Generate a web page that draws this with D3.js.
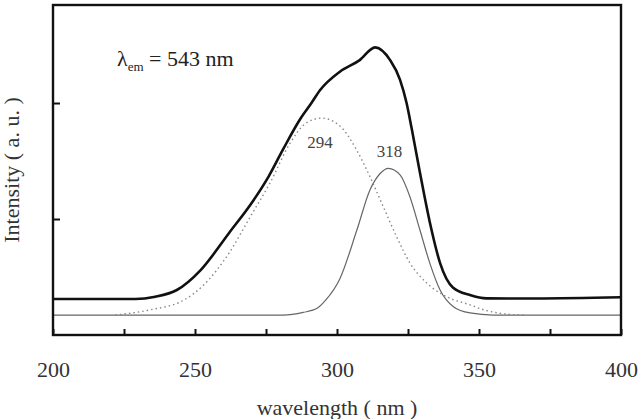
<!DOCTYPE html>
<html>
<head>
<meta charset="utf-8">
<script src="https://cdn.jsdelivr.net/npm/d3@7"></script>
<style>
  body { margin: 0; background: #fff; }
</style>
</head>
<body>
<div id="chart"></div>
<script>
// --- data ---
const xTicks = [200, 225, 250, 275, 300, 325, 350, 375, 400];
const yTicks = [1, 2];

// total excitation spectrum (thick line)
const totalWave = [200, 229, 236, 243.6, 252, 262, 270, 276, 281, 287, 291, 294, 301, 308, 313.4, 318.7, 322.2, 324.5, 326.3, 329.2, 332.7, 336.3, 340.8, 346.8, 352.7, 370, 400];
const totalInt  = [0.31, 0.31, 0.33, 0.388, 0.56, 0.88, 1.14, 1.37, 1.6, 1.86, 2.0, 2.11, 2.27, 2.37, 2.48, 2.37, 2.2, 2.0, 1.78, 1.40, 0.97, 0.62, 0.41, 0.345, 0.316, 0.315, 0.325];

// fitted band at 294 nm (dotted)
const band294Wave = [222, 234, 246, 253, 262, 269.4, 276.4, 283.5, 289.3, 294.6, 301.1, 306.9, 311.6, 316.3, 321, 325.7, 331.6, 338.6, 346.8, 352, 358, 366];
const band294Int  = [0.172, 0.216, 0.30, 0.43, 0.707, 1.017, 1.31, 1.655, 1.83, 1.87, 1.80, 1.595, 1.365, 1.106, 0.847, 0.62, 0.448, 0.33, 0.26, 0.215, 0.185, 0.172];

// fitted band at 318 nm (thin)
const band318Wave = [200, 281, 288.1, 293, 296, 301.1, 307, 311.6, 315.1, 318.1, 322.2, 325.7, 329.2, 332.7, 336.3, 341, 346.8, 355, 400];
const band318Int  = [0.172, 0.172, 0.195, 0.23, 0.30, 0.49, 0.905, 1.25, 1.39, 1.437, 1.38, 1.19, 0.905, 0.618, 0.388, 0.244, 0.19, 0.172, 0.172];

const W = 642, H = 419;
const plot = { left: 53, right: 621, top: 5, bottom: 335 };
const SERIF = "'Liberation Serif', 'Times New Roman', Times, 'DejaVu Serif', serif";

const svg = d3.select("#chart").append("svg")
    .attr("width", W)
    .attr("height", H);

const x = d3.scaleLinear().domain([200, 400]).range([plot.left, plot.right]);
const y = d3.scaleLinear().domain([0, 2.845]).range([plot.bottom, plot.top]);

const line = d3.line()
    .x(d => x(d[0]))
    .y(d => y(d[1]))
    .curve(d3.curveMonotoneX);

const zip = (a, b) => a.map((v, i) => [v, b[i]]);

// thin band 318
svg.append("path")
    .attr("d", line(zip(band318Wave, band318Int)))
    .attr("fill", "none")
    .attr("stroke", "#666")
    .attr("stroke-width", 1.2);

// dotted band 294
svg.append("path")
    .attr("d", line(zip(band294Wave, band294Int)))
    .attr("fill", "none")
    .attr("stroke", "#888")
    .attr("stroke-width", 1.4)
    .attr("stroke-dasharray", "1.5,3");

// total spectrum
svg.append("path")
    .attr("d", line(zip(totalWave, totalInt)))
    .attr("fill", "none")
    .attr("stroke", "#111")
    .attr("stroke-width", 2.6);

// axes (ticks pointing inward)
const xAxis = d3.axisBottom(x)
    .tickValues(xTicks)
    .tickSize(-6)
    .tickPadding(26)
    .tickFormat(d => d % 50 === 0 ? d : "");

const gx = svg.append("g")
    .attr("transform", `translate(0,${plot.bottom})`)
    .call(xAxis)
    .attr("font-family", SERIF)
    .attr("font-size", 22);
gx.select(".domain").remove();
gx.selectAll(".tick line").attr("stroke", "#111").attr("stroke-width", 2);
gx.selectAll(".tick text").attr("fill", "#333");

const yAxis = d3.axisLeft(y)
    .tickValues(yTicks)
    .tickSize(-7)
    .tickFormat("");

const gy = svg.append("g")
    .attr("transform", `translate(${plot.left},0)`)
    .call(yAxis);
gy.select(".domain").remove();
gy.selectAll(".tick line").attr("stroke", "#111").attr("stroke-width", 2);

// frame
svg.append("rect")
    .attr("x", plot.left)
    .attr("y", plot.top)
    .attr("width", plot.right - plot.left)
    .attr("height", plot.bottom - plot.top)
    .attr("fill", "none")
    .attr("stroke", "#111")
    .attr("stroke-width", 2.4);

// axis titles
svg.append("text")
    .attr("x", (plot.left + plot.right) / 2)
    .attr("y", 415)
    .attr("text-anchor", "middle")
    .attr("fill", "#333")
    .attr("font-family", SERIF)
    .attr("font-size", 22)
    .text("wavelength ( nm )");

svg.append("text")
    .attr("transform", `translate(19,${(plot.top + plot.bottom) / 2}) rotate(-90)`)
    .attr("text-anchor", "middle")
    .attr("fill", "#333")
    .attr("font-family", SERIF)
    .attr("font-size", 22)
    .text("Intensity ( a. u. )");

// annotations
const lam = svg.append("text")
    .attr("x", 117)
    .attr("y", 66)
    .attr("fill", "#222")
    .attr("font-family", SERIF)
    .attr("font-size", 22);
lam.append("tspan").text("λ");
lam.append("tspan").attr("dy", 5).attr("font-size", 13).text("em");
lam.append("tspan").attr("dy", -5).text(" = 543 nm");

svg.append("text")
    .attr("x", x(294))
    .attr("y", 148)
    .attr("text-anchor", "middle")
    .attr("fill", "#444")
    .attr("font-family", SERIF)
    .attr("font-size", 17)
    .text("294");

svg.append("text")
    .attr("x", x(318.5))
    .attr("y", 157)
    .attr("text-anchor", "middle")
    .attr("fill", "#444")
    .attr("font-family", SERIF)
    .attr("font-size", 17)
    .text("318");
</script>
</body>
</html>
